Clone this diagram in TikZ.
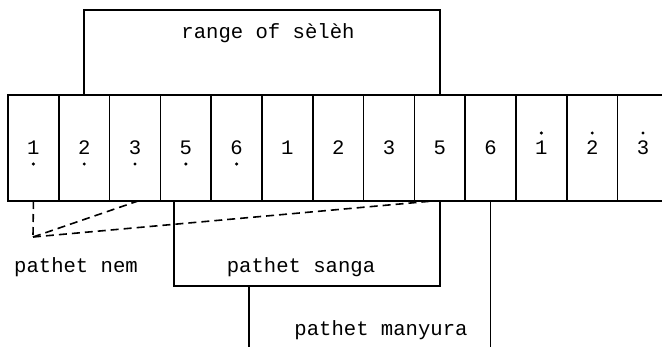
\documentclass[tikz,border=0pt]{standalone}
\usepackage{fontspec}
\setmainfont{Liberation Mono}
\begin{document}
\begin{tikzpicture}[x=0.5pt,y=-0.5pt,
  line width=0.75pt,
  cell/.style={draw,minimum width=25.4pt,minimum height=53pt,inner sep=0pt,outer sep=0pt},
  opencell/.style={cell,draw=none},
  lbl/.style={inner sep=0pt,font=\fontsize{10.3pt}{12pt}\selectfont},
  cellfont/.style={font=\fontsize{10.3pt}{12pt}\selectfont},
  dashline/.style={dash pattern=on 4pt off 2.5pt,line width=0.8pt},
  lowdot/.style={},
]
\useasboundingbox (0,0) rectangle (662,347);

% row of scale degrees
\foreach \d [count=\i] in {1,2,3,5,6,1,2,3,5,6,1,2,3}{
  \ifnum\i<13
    \node[cell,cellfont] (c\i) at ({8+50.8*(\i-0.5)},148) {\d};
  \else
    \node[opencell,cellfont] (c\i) at ({8+50.8*(\i-0.5)},148) {\d};
  \fi
}
% the open last cell: top and bottom edges run on to the right
\draw (c13.north west) -- ++(60,0);
\draw (c13.south west) -- ++(60,0);
\draw (c13.north west) -- (c13.south west);

% octave dots: below the low register, above the high register
\foreach \i in {1,...,5}
  \fill ([yshift=-8pt]c\i.center) circle (0.85pt);
\foreach \i in {11,12,13}
  \fill ([yshift=7.5pt]c\i.center) circle (0.85pt);

% range of seleh
\draw (c2.north) -- ++(0,-85) coordinate (rtl) -| (c9.north);
\node[lbl] (range) at (268,33) {range of sèlèh};

% pathet nem: dashed links from degree 1
\coordinate (nemtop) at (c1.south);
\coordinate (nempivot) at (33,237);
\coordinate (nemA) at (138,201);
\coordinate (nemB) at (433,201);
\draw[dashline] (nemtop) -- (nempivot);
\draw[dashline] (nempivot) -- (nemA);
\draw[dashline] (nempivot) -- (nemB);
\node[lbl] (nem) at (76,267) {pathet nem};

% pathet sanga
\coordinate (sangaL) at (174,201);
\draw (sangaL) -- (174,286) coordinate (sangaBL) -| (c9.south);
\node[lbl] (sanga) at (301,267) {pathet sanga};

% pathet manyura
\coordinate (manyL) at (249,286);
\draw (manyL) -- (249,350);
\draw (c10.south) -- ++(0,150);
\node[lbl] (manyura) at (381,330) {pathet manyura};
\end{tikzpicture}
\end{document}
